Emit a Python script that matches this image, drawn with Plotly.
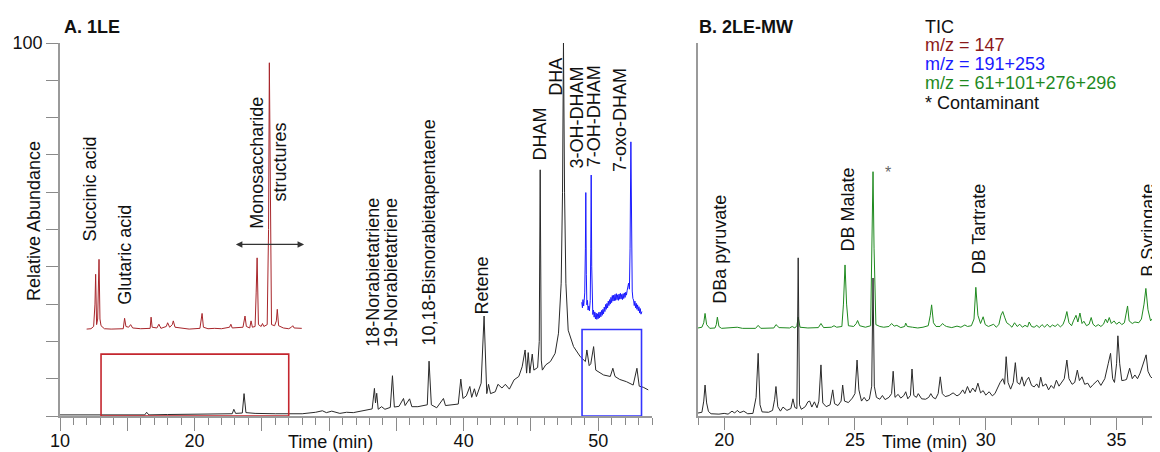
import plotly.graph_objects as go

FONT = "Liberation Sans, Arial, sans-serif"

# ---------------- Panel A (1LE) ----------------
tic_a_time = [10.0, 12.5, 14.0, 16.3, 16.44, 16.6, 18.0, 19.5, 20.5, 22.0, 22.8, 22.92, 23.05, 23.55, 23.68, 23.82,
              24.5, 26.0, 28.0, 29.0, 29.5, 29.8, 30.2, 30.8, 31.3, 31.8, 32.3, 32.8, 33.2, 33.37, 33.45, 33.54, 33.65,
              33.9, 34.15, 34.55, 34.71, 34.85, 35.2, 35.53, 35.65, 35.98, 36.15, 36.6, 37.0, 37.3, 37.43, 37.6, 38.0,
              38.5, 38.65, 39.2, 39.6, 39.79, 39.95, 40.2, 40.46, 40.6, 40.8, 40.95, 41.3, 41.52, 41.62, 41.72, 41.85,
              42.0, 42.35, 42.55, 42.85, 43.1, 43.4, 43.75, 44.1, 44.35, 44.57, 44.68, 44.8, 44.92, 45.1, 45.22, 45.5,
              45.62, 45.69, 45.77, 45.85, 46.1, 46.45, 46.8, 47.05, 47.25, 47.35, 47.42, 47.5, 47.6, 47.77, 48.17,
              48.67, 49.05, 49.16, 49.33, 49.45, 49.66, 49.82, 50.4, 50.9, 51.09, 51.25, 51.6, 52.1, 52.6, 52.88,
              53.05, 53.35, 53.72]
tic_a_abund = [0.3, 0.3, 0.4, 0.3, 1.0, 0.3, 0.4, 0.5, 0.4, 0.6, 0.6, 1.8, 0.7, 0.8, 6.0, 0.9,
               0.7, 0.6, 0.6, 1.0, 1.4, 0.9, 1.3, 0.7, 1.0, 0.9, 1.3, 1.6, 1.9, 7.4, 3.5, 6.1, 1.8,
               2.5, 1.8, 2.3, 10.8, 2.4, 2.6, 4.7, 2.8, 4.6, 2.5, 2.5, 2.7, 3.0, 14.7, 3.0, 2.2,
               4.7, 2.8, 3.0, 3.2, 9.9, 4.7, 5.4, 7.9, 5.0, 7.3, 5.2, 8.8, 26.8, 14.1, 6.0, 8.5,
               6.0, 6.5, 8.5, 7.5, 8.5, 7.2, 9.7, 10.6, 13.2, 17.7, 11.5, 17.0, 11.5, 16.6, 12.3, 13.0,
               20.0, 66.0, 15.0, 12.3, 13.7, 14.6, 16.8, 22.2, 35.6, 60.0, 100.0, 60.0, 35.6, 23.0, 18.6,
               15.9, 14.6, 17.7, 13.5, 14.0, 18.6, 12.3, 11.0, 10.6, 12.8, 10.6, 9.8, 9.2, 8.3, 12.8,
               8.0, 7.7, 7.0]

mz147_time = [11.98, 12.3, 12.5, 12.6, 12.65, 12.72, 12.8, 12.9, 12.97, 13.05, 13.3, 13.8, 14.7, 14.8, 14.9, 15.1,
              15.25, 15.4, 16.0, 16.7, 16.77, 16.85, 17.2, 17.35, 17.5, 17.9, 18.0, 18.15, 18.35, 18.42, 18.55,
              18.9, 19.3, 19.6, 20.4, 20.5, 20.56, 20.66, 21.0, 21.5, 22.0, 22.6, 22.7, 22.8, 23.6, 23.75, 23.85,
              24.1, 24.2, 24.3, 24.5, 24.58, 24.65, 24.75, 24.95, 25.05, 25.15, 25.4, 25.5, 25.56, 25.63, 25.72,
              25.95, 26.08, 26.15, 26.25, 26.6, 27.0, 27.2, 27.3, 27.4, 27.97]
mz147_abund = [23.3, 23.4, 24.0, 30.0, 38.0, 24.5, 26.0, 42.0, 26.0, 24.2, 23.4, 23.3, 23.4, 26.2, 24.0, 23.8,
               24.5, 23.6, 23.4, 23.5, 26.5, 23.8, 23.6, 24.6, 23.5, 24.0, 25.0, 23.8, 24.5, 25.5, 23.8,
               23.6, 23.4, 23.3, 23.5, 25.5, 27.5, 23.8, 23.4, 23.5, 23.4, 23.8, 24.6, 23.6, 23.8, 26.8, 24.0,
               23.6, 25.5, 23.8, 24.0, 33.0, 42.4, 24.5, 24.0, 24.8, 24.0, 24.5, 50.0, 94.7, 50.0, 24.5,
               24.2, 25.5, 28.6, 24.2, 23.6, 23.4, 23.8, 24.2, 23.6, 23.5]

mz191_time = [48.78, 48.83, 48.87, 48.92, 48.96, 49.0, 49.05, 49.08, 49.12, 49.16, 49.2, 49.25, 49.3, 49.35, 49.41,
              49.45, 49.48, 49.52, 49.56, 49.6, 49.65, 49.7, 49.75, 49.8, 49.85, 49.9, 49.95, 50.0, 50.05, 50.1,
              50.15, 50.2, 50.25, 50.3, 50.35, 50.4, 50.45, 50.5, 50.55, 50.6, 50.65, 50.7, 50.75, 50.8, 50.85,
              50.9, 50.95, 51.0, 51.05, 51.1, 51.15, 51.2, 51.25, 51.3, 51.35, 51.4, 51.45, 51.5, 51.55, 51.6,
              51.65, 51.7, 51.75, 51.8, 51.85, 51.9, 51.95, 52.0, 52.05, 52.1, 52.15, 52.2, 52.26, 52.32, 52.37,
              52.43, 52.48, 52.53, 52.58, 52.63, 52.68, 52.73, 52.78, 52.83, 52.88, 52.93, 52.98, 53.03, 53.08,
              53.13, 53.18, 53.25]
mz191_abund = [30.5, 29.0, 31.2, 29.5, 31.0, 33.0, 45.0, 59.9, 38.0, 29.8, 31.0, 28.4, 29.5, 28.2, 31.0,
               45.0, 64.6, 40.0, 28.5, 27.2, 28.4, 26.5, 27.9, 26.0, 27.6, 25.9, 27.4, 26.1, 27.8, 26.3,
               27.9, 26.6, 28.3, 27.0, 28.6, 27.4, 29.2, 28.0, 29.9, 28.6, 30.2, 29.0, 30.8, 29.6, 31.2,
               30.0, 31.8, 30.4, 32.3, 30.8, 32.4, 30.9, 32.6, 31.0, 32.8, 31.2, 32.5, 31.0, 32.7, 31.3,
               32.9, 31.4, 32.6, 31.2, 32.8, 31.5, 33.0, 31.8, 33.2, 32.4, 33.6, 34.5, 35.6, 34.0, 45.0,
               73.5, 45.0, 33.5, 31.5, 31.1, 29.6, 30.8, 29.0, 30.2, 28.6, 29.8, 28.2, 29.3, 27.6,
               28.8, 27.3, 28.0]

# ---------------- Panel B (2LE-MW) ----------------
tic_b_time = [19.0, 19.15, 19.22, 19.27, 19.33, 19.4, 19.5, 19.8, 20.0, 20.15, 20.3, 20.4, 20.5, 20.6, 20.75, 20.9,
              21.1, 21.22, 21.3, 21.37, 21.45, 21.7, 21.85, 21.93, 21.98, 22.05, 22.15, 22.25, 22.4, 22.55, 22.63,
              22.7, 22.78, 22.83, 22.88, 22.95, 23.1, 23.2, 23.27, 23.35, 23.45, 23.55, 23.62, 23.7, 23.77, 23.9,
              24.05, 24.15, 24.22, 24.35, 24.47, 24.53, 24.6, 24.75, 24.9, 25.0, 25.08, 25.15, 25.25, 25.35, 25.45,
              25.55, 25.64, 25.69, 25.74, 25.82, 25.95, 26.05, 26.15, 26.3, 26.4, 26.46, 26.53, 26.65, 26.75,
              26.87, 26.94, 27.02, 27.12, 27.18, 27.25, 27.35, 27.42, 27.55, 27.7, 27.82, 27.9, 27.98, 28.08,
              28.18, 28.26, 28.34, 28.45, 28.6, 28.75, 28.9, 29.0, 29.12, 29.2, 29.3, 29.4, 29.5, 29.6, 29.7,
              29.8, 29.9, 30.0, 30.13, 30.25, 30.35, 30.45, 30.55, 30.65, 30.72, 30.78, 30.85, 30.95, 31.05,
              31.13, 31.2, 31.3, 31.38, 31.47, 31.55, 31.64, 31.75, 31.85, 31.95, 32.03, 32.1, 32.18, 32.3,
              32.4, 32.5, 32.6, 32.7, 32.8, 32.9, 33.0, 33.1, 33.18, 33.3, 33.4, 33.5, 33.58, 33.68, 33.78,
              33.9, 34.0, 34.1, 34.2, 34.28, 34.4, 34.55, 34.68, 34.77, 34.85, 34.92, 35.0, 35.05, 35.12, 35.2,
              35.3, 35.38, 35.5, 35.6, 35.7, 35.8, 35.9, 36.05, 36.13, 36.2, 36.3, 36.4, 36.5, 36.7]
tic_b_abund = [0.8, 1.0, 4.0, 8.3, 3.5, 1.2, 0.6, 0.5, 0.7, 0.5, 1.3, 0.8, 1.5, 0.9, 1.3, 0.6,
               0.7, 5.0, 16.8, 3.0, 1.1, 1.0, 1.5, 4.5, 7.9, 2.5, 1.3, 2.4, 1.5, 2.0, 4.6,
               2.3, 2.0, 42.4, 3.0, 1.8, 2.5, 3.8, 4.0, 2.4, 3.8, 2.2, 4.0, 13.7, 3.5, 2.5,
               3.0, 7.0, 3.3, 2.8, 4.0, 8.3, 4.0, 3.6, 4.8, 6.0, 15.0, 7.0, 4.0, 5.0, 4.0,
               4.5, 8.0, 37.0, 8.0, 5.0, 4.5, 5.5, 4.4, 5.0, 6.0, 12.0, 5.0, 5.8, 4.8,
               5.5, 6.5, 4.6, 5.5, 12.6, 5.5, 5.0, 6.0, 4.6, 4.5, 5.0, 6.0, 5.0, 4.6,
               6.0, 10.5, 6.0, 5.2, 5.5, 6.2, 5.4, 5.8, 7.0, 6.0, 7.9, 6.2, 7.5, 6.5, 8.8,
               6.2, 6.8, 5.6, 6.5, 5.4, 6.0, 7.5, 9.0, 10.0, 8.5, 15.9, 9.0, 7.2, 9.0,
               14.3, 9.0, 8.5, 10.5, 8.0, 9.5, 10.4, 8.2, 7.8, 8.6, 7.6, 10.4, 8.0, 8.6,
               7.0, 8.2, 7.4, 9.6, 8.0, 9.2, 10.0, 15.0, 10.0, 8.5, 9.0, 12.3, 9.5, 10.5, 8.5,
               8.8, 7.6, 8.4, 9.0, 9.6, 8.2, 10.0, 14.0, 16.8, 10.0, 9.0, 14.0, 21.5, 14.0, 9.5,
               9.6, 9.8, 12.8, 10.0, 11.0, 10.0, 11.5, 15.0, 16.4, 12.0, 10.5, 10.0, 10.5, 10.2]

mz_sum_time = [19.0, 19.15, 19.22, 19.27, 19.33, 19.45, 19.65, 19.7, 19.74, 19.8, 19.9, 20.3, 20.5, 20.7, 21.2,
               21.3, 21.4, 21.9, 21.98, 22.1, 22.5, 22.6, 22.7, 22.78, 22.83, 22.9, 23.2, 23.6, 23.7, 23.8,
               24.1, 24.2, 24.3, 24.5, 24.56, 24.62, 24.68, 24.75, 24.95, 25.05, 25.1, 25.18, 25.4, 25.6,
               25.65, 25.69, 25.73, 25.8, 25.95, 26.1, 26.3, 26.4, 26.5, 26.6, 26.75, 26.9, 26.94, 27.0,
               27.2, 27.4, 27.6, 27.8, 27.88, 27.93, 28.0, 28.1, 28.25, 28.35, 28.42, 28.5, 28.7, 28.9,
               29.05, 29.2, 29.3, 29.45, 29.55, 29.62, 29.7, 29.8, 29.9, 29.98, 30.1, 30.3, 30.4, 30.5,
               30.58, 30.65, 30.72, 30.8, 30.9, 31.0, 31.1, 31.2, 31.3, 31.4, 31.5, 31.6, 31.66, 31.75,
               31.85, 31.95, 32.05, 32.15, 32.25, 32.35, 32.45, 32.55, 32.65, 32.75, 32.85, 32.95, 33.03,
               33.1, 33.18, 33.28, 33.35, 33.45, 33.52, 33.6, 33.68, 33.75, 33.85, 33.95, 34.03, 34.1,
               34.2, 34.3, 34.4, 34.5, 34.58, 34.65, 34.72, 34.8, 34.9, 35.0, 35.1, 35.2, 35.3, 35.36,
               35.42, 35.48, 35.6, 35.7, 35.85, 35.95, 36.05, 36.12, 36.2, 36.3, 36.4, 36.5, 36.6, 36.7]
mz_sum_abund = [23.6, 23.8, 25.0, 27.5, 24.5, 23.5, 23.6, 24.5, 26.5, 24.0, 23.5, 23.6, 23.8, 23.5, 23.5,
                24.3, 23.5, 23.6, 24.5, 23.7, 23.6, 24.0, 23.6, 24.2, 26.5, 23.8, 23.6, 23.7, 24.8, 23.7,
                23.8, 24.2, 23.8, 24.0, 30.0, 40.5, 30.0, 24.2, 24.0, 24.8, 25.6, 24.2, 23.8, 24.2,
                45.0, 65.5, 45.0, 24.5, 24.0, 23.8, 24.0, 24.8, 24.1, 24.3, 23.7, 24.0, 24.9, 24.0,
                23.8, 23.6, 23.8, 24.2, 27.0, 29.8, 25.0, 24.0, 24.0, 24.8, 24.3, 24.0, 23.7, 24.1,
                23.8, 24.4, 24.0, 24.2, 26.0, 34.5, 27.0, 24.8, 26.6, 24.5, 24.0, 24.6, 23.8, 24.5,
                27.0, 28.0, 26.5, 25.0, 24.5, 23.8, 25.0, 24.0, 24.6, 23.8, 24.3, 23.9, 25.2, 24.0,
                23.8, 24.3, 23.7, 24.5, 23.8, 24.6, 23.8, 24.4, 24.0, 24.6, 23.9, 24.5, 26.0,
                28.0, 25.0, 24.2, 25.5, 27.0, 25.2, 27.6, 24.8, 25.4, 24.2, 24.6, 26.4, 24.6,
                24.0, 24.5, 24.0, 24.6, 26.0, 25.0, 26.4, 24.8, 25.5, 24.6, 25.2, 24.5, 25.0, 27.0,
                29.5, 25.5, 24.8, 25.2, 25.0, 26.0, 30.0, 34.2, 28.5, 25.5, 26.4, 25.0, 24.6, 24.8]

# ---------------- annotations (labels) ----------------
labels_a = ["Succinic acid", "Glutaric acid", "Monosaccharide", "structures", "18-Norabietatriene",
            "19-Norabietatriene", "10,18-Bisnorabietapentaene", "Retene", "DHAM", "DHA", "3-OH-DHAM",
            "7-OH-DHAM", "7-oxo-DHAM"]
labels_a_time = [12.30, 14.83, 24.62, 26.36, 33.29, 34.66, 37.43, 41.35, 45.69, 46.80, 48.42, 49.65, 51.64]
labels_a_level = [61.0, 43.2, 67.8, 68.0, 38.5, 38.5, 49.2, 34.9, 75.5, 91.0, 80.0, 80.5, 79.4]

labels_b = ["DBa pyruvate", "DB Malate", "DB Tartrate", "B Syringate"]
labels_b_time = [19.81, 24.74, 29.74, 36.17]
labels_b_level = [44.6, 55.4, 50.3, 49.7]

legend_texts = ["TIC", "m/z = 147", "m/z = 191+253", "m/z = 61+101+276+296", "* Contaminant"]

# zoom boxes and arrow (data coordinates)
red_box = dict(t0=13.05, t1=27.0, a0=0, a1=16.6)
blue_box = dict(t0=48.8, t1=53.22, a0=0, a1=23.2)
mono_arrow = dict(t0=22.96, t1=28.14, a=46.0)
contaminant_mark = dict(t=26.28, a=65.3)

C_BLACK = "#2a2a2a"
C_RED = "#a8262b"
C_BLUE = "#1a1aff"
C_GREEN = "#1f8a1f"

fig = go.Figure()
fig.add_trace(go.Scatter(x=tic_a_time, y=tic_a_abund, mode="lines", line=dict(color=C_BLACK, width=1),
                         xaxis="x", yaxis="y", showlegend=False, hoverinfo="skip"))
fig.add_trace(go.Scatter(x=mz147_time, y=mz147_abund, mode="lines", line=dict(color=C_RED, width=1),
                         xaxis="x", yaxis="y", showlegend=False, hoverinfo="skip"))
fig.add_trace(go.Scatter(x=mz191_time, y=mz191_abund, mode="lines", line=dict(color=C_BLUE, width=1),
                         xaxis="x", yaxis="y", showlegend=False, hoverinfo="skip"))
fig.add_trace(go.Scatter(x=mz_sum_time, y=mz_sum_abund, mode="lines", line=dict(color=C_GREEN, width=1),
                         xaxis="x2", yaxis="y2", showlegend=False, hoverinfo="skip"))
fig.add_trace(go.Scatter(x=tic_b_time, y=tic_b_abund, mode="lines", line=dict(color=C_BLACK, width=1),
                         xaxis="x2", yaxis="y2", showlegend=False, hoverinfo="skip"))

W, H = 1160, 452
OFF = 8  # page body margin offset of the plot div

def px_x(p):
    return (p - OFF) / W

def px_y(p):
    return 1 - (p - OFF) / H

ydom = [px_y(416), px_y(43)]
AX_COL = "#9a9a9a"
TICK_COL = "#8a8a8a"
tickfont = dict(family=FONT, size=18, color="#111")

fig.update_layout(
    width=W, height=H, margin=dict(l=0, r=0, t=0, b=0, pad=0, autoexpand=False),
    paper_bgcolor="white", plot_bgcolor="white",
    xaxis=dict(domain=[px_x(60), px_x(652)], range=[10, 54], anchor="y", automargin=False,
               showline=True, linecolor=AX_COL, linewidth=1.5, showgrid=False, zeroline=False,
               tickmode="array", tickvals=[10, 15, 20, 25, 30, 35, 40, 45, 50],
               ticktext=["10", "", "20", "", "", "", "40", "", "50"],
               ticks="outside", ticklen=13, tickwidth=1.3, tickcolor=TICK_COL, tickfont=tickfont,
               ticklabelstandoff=-5,
               minor=dict(tickmode="linear", tick0=10, dtick=1, ticks="outside", ticklen=7,
                          tickwidth=1.2, tickcolor=TICK_COL, showgrid=False)),
    yaxis=dict(domain=ydom, range=[0, 100], anchor="x", automargin=False,
               showline=True, linecolor=AX_COL, linewidth=1.5, showgrid=False, zeroline=False,
               tickmode="array", tickvals=[0, 10, 20, 30, 40, 50, 60, 70, 80, 90, 100],
               ticktext=[""] * 10 + ["100"], ticks="outside", ticklen=12, tickwidth=1.3,
               tickcolor=TICK_COL, tickfont=tickfont),
    xaxis2=dict(domain=[px_x(698), px_x(1160)], range=[19, 36.66], anchor="y2", automargin=False,
                showline=True, linecolor=AX_COL, linewidth=1.5, showgrid=False, zeroline=False,
                tickmode="array", tickvals=[20, 25, 30, 35], ticktext=["20", "25", "30", "35"],
                ticks="outside", ticklen=12, tickwidth=1.3, tickcolor=TICK_COL, tickfont=tickfont,
                ticklabelstandoff=-5,
                minor=dict(tickmode="linear", tick0=19, dtick=1, ticks="outside", ticklen=7,
                           tickwidth=1.2, tickcolor=TICK_COL, showgrid=False)),
    yaxis2=dict(domain=ydom, range=[0, 100], anchor="x2", automargin=False,
                showline=True, linecolor=AX_COL, linewidth=1.5, showgrid=False, zeroline=False,
                showticklabels=False, ticks=""),
)

shapes = [
    dict(type="rect", xref="x", yref="y", x0=red_box["t0"], x1=red_box["t1"], y0=red_box["a0"], y1=red_box["a1"],
         line=dict(color="#c4262e", width=1.6)),
    dict(type="rect", xref="x", yref="y", x0=blue_box["t0"], x1=blue_box["t1"], y0=blue_box["a0"], y1=blue_box["a1"],
         line=dict(color="#3434ff", width=1.6)),
]
fig.update_layout(shapes=shapes)

ann = []
lab_font = dict(family=FONT, size=18, color="#111")
for t, xv, yv in zip(labels_a, labels_a_time, labels_a_level):
    ann.append(dict(text=t, x=xv, y=yv, xref="x", yref="y", showarrow=False, textangle=-90,
                    xanchor="center", yanchor="middle", font=lab_font))
for t, xv, yv in zip(labels_b, labels_b_time, labels_b_level):
    ann.append(dict(text=t, x=xv, y=yv, xref="x2", yref="y2", showarrow=False, textangle=-90,
                    xanchor="center", yanchor="middle", font=lab_font))

# double-headed arrow for monosaccharides
ann.append(dict(text="", x=mono_arrow["t1"], y=mono_arrow["a"], ax=mono_arrow["t0"], ay=mono_arrow["a"],
                xref="x", yref="y", axref="x", ayref="y", showarrow=True, arrowhead=2, arrowside="end+start",
                arrowsize=1, arrowwidth=1.3, arrowcolor="#333"))
# contaminant mark
ann.append(dict(text="*", x=contaminant_mark["t"], y=contaminant_mark["a"], xref="x2", yref="y2",
                showarrow=False, font=dict(family=FONT, size=16, color="#666"), xanchor="center", yanchor="middle"))

# legend text block
legend_colors = ["#111", "#8b1a1a", "#1a1aff", "#1f8a1f", "#111"]
legend_ypx = [26.7, 45.0, 64.0, 83.3, 103.3]
for t, c, yp in zip(legend_texts, legend_colors, legend_ypx):
    ann.append(dict(text=t, x=px_x(923), y=px_y(yp), xref="paper", yref="paper", showarrow=False,
                    xanchor="left", yanchor="middle", font=dict(family=FONT, size=18, color=c)))

# panel titles
ann.append(dict(text="<b>A. 1LE</b>", x=px_x(62), y=px_y(26.7), xref="paper", yref="paper", showarrow=False,
                xanchor="left", yanchor="middle", font=dict(family=FONT, size=18, color="#111")))
ann.append(dict(text="<b>B. 2LE-MW</b>", x=px_x(697), y=px_y(26.7), xref="paper", yref="paper", showarrow=False,
                xanchor="left", yanchor="middle", font=dict(family=FONT, size=18, color="#111")))
# axis titles
ann.append(dict(text="Relative Abundance", x=px_x(33.3), y=px_y(220.7), xref="paper", yref="paper",
                showarrow=False, textangle=-90, xanchor="center", yanchor="middle",
                font=dict(family=FONT, size=18, color="#111")))
ann.append(dict(text="Time (min)", x=px_x(330), y=px_y(442), xref="paper", yref="paper", showarrow=False,
                xanchor="center", yanchor="middle", font=dict(family=FONT, size=18, color="#111")))
ann.append(dict(text="Time (min)", x=px_x(924), y=px_y(442), xref="paper", yref="paper", showarrow=False,
                xanchor="center", yanchor="middle", font=dict(family=FONT, size=18, color="#111")))

fig.update_layout(annotations=ann)

fig.write_html("out.html", config={"displayModeBar": False})
